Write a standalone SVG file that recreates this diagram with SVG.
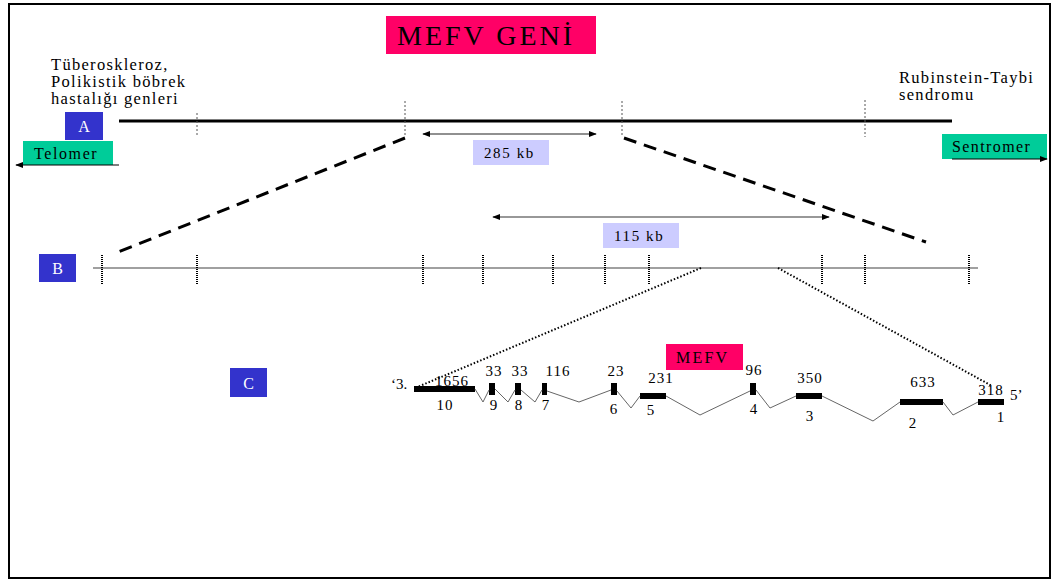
<svg xmlns="http://www.w3.org/2000/svg" width="1055" height="580" viewBox="0 0 1055 580">
  <defs>
    <style>
      .serif { font-family: "Liberation Serif", "Times New Roman", serif; fill: #000; }
      .lbl { font-size: 16.5px; letter-spacing: 1.3px; }
      .num { font-size: 15px; text-anchor: middle; letter-spacing: 1px; }
      .tag { fill: #3333CC; }
      .tagtxt { font-family: "Liberation Serif", serif; font-size: 16px; fill: #fff; text-anchor: middle; }
      .kb { fill: #CCCCFF; }
      .dir { fill: #00CC99; }
      .tick { stroke: #555; stroke-width: 1; stroke-dasharray: 2 2; }
      .tickB { stroke: #000; stroke-width: 2; stroke-dasharray: 1 1; }
      .exon { fill: #000; }
      .intron { fill: none; stroke: #666; stroke-width: 1; }
      .zoomdash { stroke: #000; stroke-width: 3; stroke-dasharray: 13 8; fill: none; }
      .zoomdot { stroke: #000; stroke-width: 2; stroke-dasharray: 1.5 2; fill: none; }
    </style>
    <marker id="ah" viewBox="0 0 10 10" refX="9" refY="5" markerWidth="8" markerHeight="8" markerUnits="userSpaceOnUse" orient="auto-start-reverse">
      <path d="M0,1 L10,5 L0,9 Z" fill="#000"/>
    </marker>
  </defs>

  <rect x="0" y="0" width="1055" height="580" fill="#fff"/>
  <rect x="9" y="4" width="1041" height="574" fill="none" stroke="#000" stroke-width="2"/>

  <!-- title -->
  <g id="title">
    <rect x="386" y="16" width="210" height="38" fill="#FF0066"/>
    <text x="397" y="45" class="serif" font-size="28" letter-spacing="3">MEFV GENİ</text>
  </g>

  <!-- side notes -->
  <g id="note-left">
    <text class="serif lbl" x="51" y="70">Tüberoskleroz,</text>
    <text class="serif lbl" x="51" y="87">Polikistik böbrek</text>
    <text class="serif lbl" x="51" y="104">hastalığı genleri</text>
  </g>
  <g id="note-right">
    <text class="serif lbl" x="899" y="83">Rubinstein-Taybi</text>
    <text class="serif lbl" x="899" y="100">sendromu</text>
  </g>

  <!-- level labels -->
  <g id="label-A"><rect class="tag" x="65" y="112" width="38" height="28"/><text class="tagtxt" x="84" y="132">A</text></g>
  <g id="label-B"><rect class="tag" x="39" y="254" width="37" height="28"/><text class="tagtxt" x="57.5" y="274">B</text></g>
  <g id="label-C"><rect class="tag" x="230" y="368" width="37" height="29"/><text class="tagtxt" x="248.5" y="389">C</text></g>

  <!-- orientation -->
  <g id="telomer">
    <rect class="dir" x="23" y="141" width="90" height="24"/>
    <text class="serif" x="34" y="159" font-size="16" letter-spacing="1.6">Telomer</text>
  </g>
  <g id="sentromer">
    <rect class="dir" x="942" y="134" width="105" height="25"/>
    <text class="serif" x="952" y="152" font-size="16" letter-spacing="1.4">Sentromer</text>
  </g>

  <!-- chromosome line A -->
  <g id="line-A">
    <line x1="119" y1="121" x2="952" y2="121" stroke="#000" stroke-width="3"/>
    <line class="tick" x1="197" y1="113" x2="197" y2="137"/>
    <line class="tick" x1="405" y1="101" x2="405" y2="137"/>
    <line class="tick" x1="622" y1="101" x2="622" y2="137"/>
    <line class="tick" x1="865" y1="100" x2="865" y2="137"/>
  </g>

  <!-- region line B -->
  <g id="line-B">
    <line x1="93" y1="268" x2="978" y2="268" stroke="#808080" stroke-width="1.5"/>
    <line class="tickB" x1="102" y1="255" x2="102" y2="285"/>
    <line class="tickB" x1="197" y1="255" x2="197" y2="285"/>
    <line class="tickB" x1="423" y1="255" x2="423" y2="285"/>
    <line class="tickB" x1="483" y1="255" x2="483" y2="285"/>
    <line class="tickB" x1="553" y1="255" x2="553" y2="285"/>
    <line class="tickB" x1="605" y1="255" x2="605" y2="285"/>
    <line class="tickB" x1="649" y1="255" x2="649" y2="285"/>
    <line class="tickB" x1="822" y1="255" x2="822" y2="285"/>
    <line class="tickB" x1="865" y1="255" x2="865" y2="285"/>
    <line class="tickB" x1="969" y1="255" x2="969" y2="285"/>
  </g>

  <!-- size labels -->
  <g id="size-285">
    <rect class="kb" x="473" y="140" width="76" height="25"/>
    <text class="serif" x="484" y="158" font-size="15" letter-spacing="1.6">285 kb</text>
  </g>
  <g id="size-115">
    <rect class="kb" x="603" y="223" width="76" height="25"/>
    <text class="serif" x="614" y="241" font-size="15" letter-spacing="1.6">115 kb</text>
  </g>

  <!-- gene label -->
  <g id="mefv">
    <rect x="666" y="344" width="77" height="26" fill="#FF0066"/>
    <text class="serif" x="676" y="363" font-size="16" letter-spacing="2.2">MEFV</text>
  </g>

  <!-- exons -->
  <g id="exons">
    <rect class="exon" x="414" y="386" width="61" height="6"/>
    <rect class="exon" x="489" y="383" width="6" height="12"/>
    <rect class="exon" x="515" y="383" width="6" height="12"/>
    <rect class="exon" x="542" y="383" width="5" height="12"/>
    <rect class="exon" x="611" y="383" width="6" height="12"/>
    <rect class="exon" x="640" y="393" width="26" height="6"/>
    <rect class="exon" x="750" y="383" width="6" height="12"/>
    <rect class="exon" x="796" y="393" width="26" height="6"/>
    <rect class="exon" x="900" y="399" width="43" height="6"/>
    <rect class="exon" x="978" y="399" width="26" height="6"/>
  </g>

  <!-- exon sizes and numbers -->
  <g id="exon-labels" class="serif">
    <text x="391" y="389" font-size="15">‘3.</text>
    <text class="num" x="452" y="386">1656</text>
    <text class="num" x="445" y="410">10</text>
    <text class="num" x="494" y="376">33</text>
    <text class="num" x="494" y="410">9</text>
    <text class="num" x="520" y="376">33</text>
    <text class="num" x="519" y="410">8</text>
    <text class="num" x="558" y="376">116</text>
    <text class="num" x="546" y="410">7</text>
    <text class="num" x="616" y="376">23</text>
    <text class="num" x="614" y="414">6</text>
    <text class="num" x="661" y="383">231</text>
    <text class="num" x="651" y="415">5</text>
    <text class="num" x="754" y="375">96</text>
    <text class="num" x="754" y="414">4</text>
    <text class="num" x="810" y="383">350</text>
    <text class="num" x="810" y="421">3</text>
    <text class="num" x="923" y="387">633</text>
    <text class="num" x="913" y="428">2</text>
    <text class="num" x="991" y="395">318</text>
    <text class="num" x="1001" y="422">1</text>
    <text x="1010" y="400" font-size="15">5’</text>
  </g>

  <!-- connectors -->
  <g id="connectors">
    <line x1="119" y1="165" x2="16" y2="165" stroke="#000" stroke-width="1.2" marker-end="url(#ah)"/>
    <line x1="952" y1="159" x2="1047" y2="159" stroke="#000" stroke-width="1.2" marker-end="url(#ah)"/>
    <line x1="423" y1="134" x2="596" y2="134" stroke="#222" stroke-width="1.2" marker-start="url(#ah)" marker-end="url(#ah)"/>
    <line x1="493" y1="217" x2="829" y2="217" stroke="#333" stroke-width="1.2" marker-start="url(#ah)" marker-end="url(#ah)"/>
    <line class="zoomdash" x1="405" y1="138" x2="118" y2="252"/>
    <line class="zoomdash" x1="624" y1="138" x2="926" y2="242"/>
    <line class="zoomdot" x1="701" y1="268" x2="415" y2="388"/>
    <line class="zoomdot" x1="778" y1="268" x2="992" y2="386"/>
    <polyline class="intron" points="475,389 483,402 489,390"/>
    <polyline class="intron" points="495,389 508,402 515,390"/>
    <polyline class="intron" points="521,390 535,402 542,390"/>
    <polyline class="intron" points="547,391 579,402 611,390"/>
    <polyline class="intron" points="617,391 631,408 640,396"/>
    <polyline class="intron" points="666,396 700,415 750,391"/>
    <polyline class="intron" points="756,390 770,408 796,396"/>
    <polyline class="intron" points="822,396 873,421 900,402"/>
    <polyline class="intron" points="943,402 953,415 978,402"/>
  </g>
</svg>
